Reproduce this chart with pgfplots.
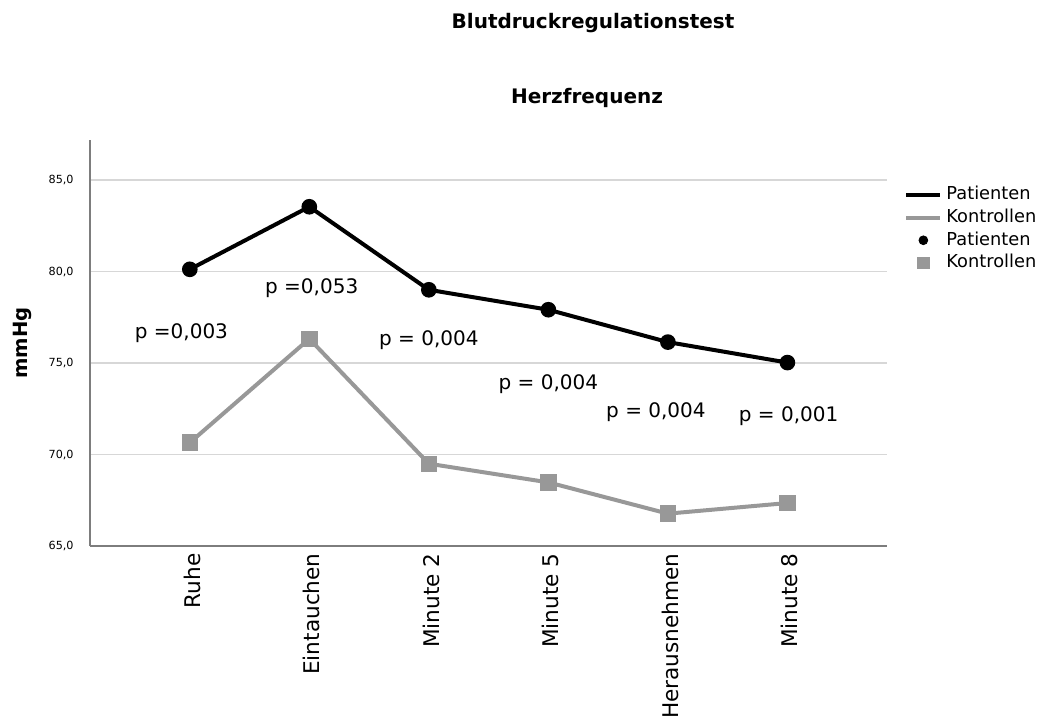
\documentclass[border=0pt]{standalone}
\usepackage{pgfplots}
\pgfplotsset{compat=1.18}
\usepackage{fontspec}
\setmainfont{DejaVu Sans}
\definecolor{ctrl}{RGB}{152,152,152}
\definecolor{gridc}{RGB}{215,215,215}
\definecolor{axc}{RGB}{125,125,125}
\begin{document}
\begin{tikzpicture}
\path[use as bounding box] (0pt,0pt) rectangle (521pt,360pt);
\begin{axis}[
 at={(45pt,87pt)}, anchor=south west,
 scale only axis, width=398.3pt, height=203pt,
 xmin=-0.835, xmax=5.83, ymin=65, ymax=87.2,
 axis x line*=bottom, axis y line*=left,
 axis line style={axc, line width=0.8pt, -},
 xtick={0,1,2,3,4,5},
 xticklabels={Ruhe,Eintauchen,Minute 2,Minute 5,Herausnehmen,Minute 8},
 ytick={65,70,75,80,85},
 major tick length=0pt,
 ymajorgrids, grid style={gridc, line width=0.8pt},
 xticklabel style={yshift=-3.5pt, xshift=1.2pt, rotate=90, anchor=east, inner sep=0pt, font=\fontsize{10.8}{12}\selectfont},
 yticklabel style={anchor=east, inner sep=0pt, xshift=-8pt, font=\fontsize{5.6}{6}\selectfont,
   /pgf/number format/.cd, fixed, fixed zerofill, precision=1, use comma, assume math mode=true},
 legend style={at={(1.0217,0.888)}, anchor=north west, draw=none, fill=none,
   font=\fontsize{8.9}{10}\selectfont, inner sep=0pt, row sep=2.35pt,
   nodes={inner xsep=2pt, inner ysep=0pt, text height=7pt, text depth=2pt}},
 legend cell align=left,
 clip=false,
]
\addlegendimage{black, line width=2pt, no marks}
\addlegendentry{Patienten}
\addlegendimage{ctrl, line width=2pt, no marks}
\addlegendentry{Kontrollen}
\addlegendimage{only marks, mark=*, mark size=2.2pt, black}
\addlegendentry{Patienten}
\addlegendimage{only marks, mark=square*, mark size=2.8pt, ctrl}
\addlegendentry{Kontrollen}

\addplot[black, line width=2pt, mark=*, mark size=2.9pt, forget plot]
 coordinates {(0,80.13)(1,83.55)(2,79.01)(3,77.92)(4,76.15)(5,75.03)};
\addplot[ctrl, line width=2pt, mark=square*, mark size=3.1pt, forget plot]
 coordinates {(0,70.65)(1,76.33)(2,69.50)(3,68.48)(4,66.77)(5,67.35)};

\node[font=\fontsize{10}{12}\selectfont] at (axis cs:-0.07,76.66) {p =0,003};
\node[font=\fontsize{10}{12}\selectfont] at (axis cs:1.02,79.12) {p =0,053};
\node[font=\fontsize{10}{12}\selectfont] at (axis cs:2.0,76.28) {p = 0,004};
\node[font=\fontsize{10}{12}\selectfont] at (axis cs:3.0,73.87) {p = 0,004};
\node[font=\fontsize{10}{12}\selectfont] at (axis cs:3.9,72.33) {p = 0,004};
\node[font=\fontsize{10}{12}\selectfont] at (axis cs:5.01,72.08) {p = 0,001};
\end{axis}
\node[anchor=base, font=\bfseries\fontsize{10}{12}\selectfont] at (296.5pt,346pt) {Blutdruckregulationstest};
\node[anchor=base, font=\bfseries\fontsize{10}{12}\selectfont] at (293.5pt,308.5pt) {Herzfrequenz};
\node[rotate=90, font=\bfseries\fontsize{9.8}{11}\selectfont] at (11.2pt,188.5pt) {mmHg};
\end{tikzpicture}
\end{document}
